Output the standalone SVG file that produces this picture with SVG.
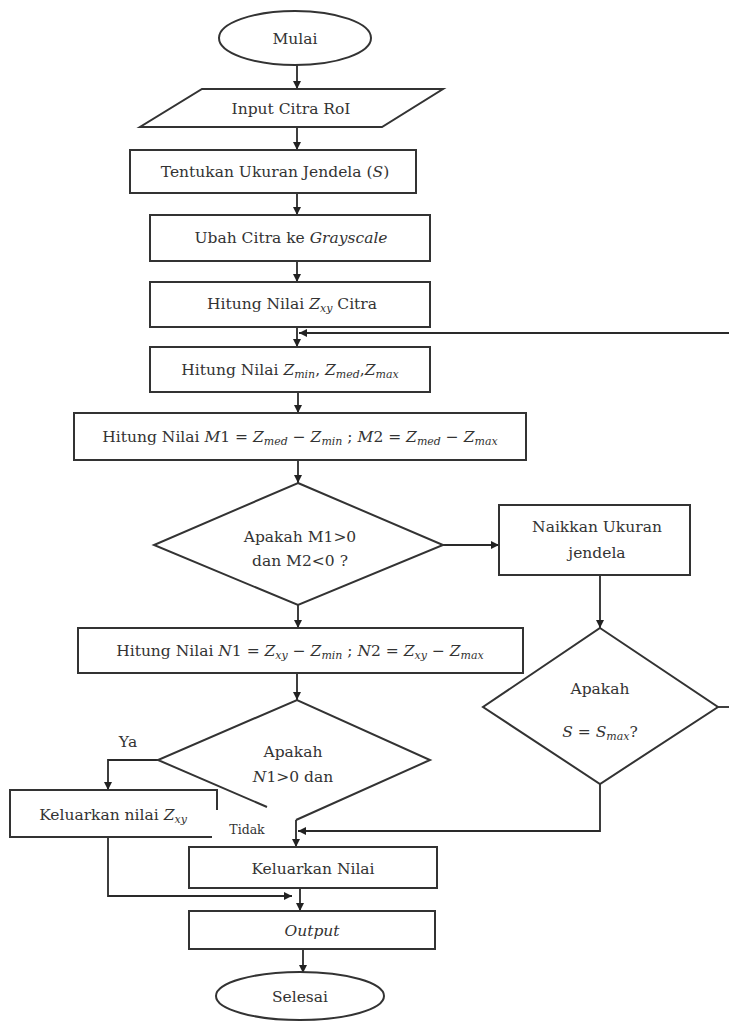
<svg xmlns="http://www.w3.org/2000/svg" width="729" height="1022" viewBox="0 0 729 1022">
  <defs>
    <marker id="arr" viewBox="0 0 10 10" refX="10" refY="5" markerWidth="8" markerHeight="8" markerUnits="userSpaceOnUse" orient="auto">
      <path d="M0,0 L10,5 L0,10 z" fill="#222"/>
    </marker>
    <style>
      .shape { fill: #fff; stroke: #333; stroke-width: 2; }
      .link { fill: none; stroke: #2a2a2a; stroke-width: 1.8; }
      .arrow { marker-end: url(#arr); }
      text { font-family: "DejaVu Serif", "Liberation Serif", serif; font-size: 15.5px; fill: #333; text-anchor: middle; }
      .m { font-style: italic; }
      .sub { font-style: italic; font-size: 11px; }
      .small { font-size: 12.5px; }
    </style>
  </defs>
  <rect width="729" height="1022" fill="#fff"/>

  <!-- connectors -->
  <g id="connectors">
    <path class="link arrow" d="M297,65 V89"/>
    <path class="link arrow" d="M297,127 V150"/>
    <path class="link arrow" d="M297,193 V215"/>
    <path class="link arrow" d="M297,261 V282"/>
    <path class="link arrow" d="M297,327 V347"/>
    <path class="link arrow" d="M729,333 H299"/>
    <path class="link arrow" d="M298,392 V413"/>
    <path class="link arrow" d="M298,460 V483"/>
    <path class="link arrow" d="M443,545 H499"/>
    <path class="link arrow" d="M600,575 V628"/>
    <path class="link arrow" d="M298,605 V628"/>
    <path class="link" d="M718,707 H729"/>
    <path class="link arrow" d="M297,673 V700"/>
    <path class="link arrow" d="M158,760 H108 V790"/>
    <path class="link arrow" d="M600,784 V831 H298"/>
    <path class="link arrow" d="M296,820 V847"/>
    <path class="link arrow" d="M108,837 V896 H292"/>
    <path class="link arrow" d="M300,888 V911"/>
    <path class="link arrow" d="M303,949 V973"/>
  </g>

  <g id="start">
    <ellipse class="shape" cx="295" cy="38" rx="76" ry="27"/>
    <text x="295" y="44">Mulai</text>
  </g>

  <g id="input">
    <polygon class="shape" points="202,89 443,89 382,127 140,127"/>
    <text x="291" y="114">Input Citra RoI</text>
  </g>

  <g id="window-size">
    <rect class="shape" x="130" y="150" width="286" height="43"/>
    <text x="275" y="177">Tentukan Ukuran Jendela  (<tspan class="m">S</tspan>)</text>
  </g>

  <g id="grayscale">
    <rect class="shape" x="150" y="215" width="280" height="46"/>
    <text x="291" y="243">Ubah Citra ke <tspan class="m">Grayscale</tspan></text>
  </g>

  <g id="zxy">
    <rect class="shape" x="150" y="282" width="280" height="45"/>
    <text x="292" y="309">Hitung Nilai <tspan class="m">Z</tspan><tspan class="sub" dy="3">xy</tspan><tspan dy="-3"> Citra</tspan></text>
  </g>

  <g id="zminmedmax">
    <rect class="shape" x="150" y="347" width="280" height="45"/>
    <text x="290" y="375">Hitung Nilai <tspan class="m">Z</tspan><tspan class="sub" dy="3">min</tspan><tspan dy="-3">, </tspan><tspan class="m">Z</tspan><tspan class="sub" dy="3">med</tspan><tspan dy="-3">,</tspan><tspan class="m">Z</tspan><tspan class="sub" dy="3">max</tspan></text>
  </g>

  <g id="m1m2">
    <rect class="shape" x="74" y="413" width="452" height="47"/>
    <text x="300" y="442">Hitung Nilai <tspan class="m">M</tspan>1 = <tspan class="m">Z</tspan><tspan class="sub" dy="3">med</tspan><tspan dy="-3"> − </tspan><tspan class="m">Z</tspan><tspan class="sub" dy="3">min</tspan><tspan dy="-3"> ; </tspan><tspan class="m">M</tspan>2 = <tspan class="m">Z</tspan><tspan class="sub" dy="3">med</tspan><tspan dy="-3"> − </tspan><tspan class="m">Z</tspan><tspan class="sub" dy="3">max</tspan></text>
  </g>

  <g id="check-m">
    <polygon class="shape" points="298,483 443,545 298,605 154,545"/>
    <text x="300" y="542">Apakah M1&gt;0</text>
    <text x="300" y="566">dan M2&lt;0 ?</text>
  </g>

  <g id="grow-window">
    <rect class="shape" x="499" y="505" width="191" height="70"/>
    <text x="597" y="532">Naikkan Ukuran</text>
    <text x="597" y="558">jendela</text>
  </g>

  <g id="check-smax">
    <polygon class="shape" points="600,628 718,707 600,784 483,707"/>
    <text x="600" y="694">Apakah</text>
    <text x="600" y="737"><tspan class="m">S</tspan> = <tspan class="m">S</tspan><tspan class="sub" dy="3">max</tspan><tspan dy="-3">?</tspan></text>
  </g>

  <g id="n1n2">
    <rect class="shape" x="78" y="628" width="445" height="45"/>
    <text x="300" y="656">Hitung Nilai <tspan class="m">N</tspan>1 = <tspan class="m">Z</tspan><tspan class="sub" dy="3">xy</tspan><tspan dy="-3"> − </tspan><tspan class="m">Z</tspan><tspan class="sub" dy="3">min</tspan><tspan dy="-3"> ; </tspan><tspan class="m">N</tspan>2 = <tspan class="m">Z</tspan><tspan class="sub" dy="3">xy</tspan><tspan dy="-3"> − </tspan><tspan class="m">Z</tspan><tspan class="sub" dy="3">max</tspan></text>
  </g>

  <g id="check-n">
    <path class="shape" d="M267,807 L158,760 L297,700 L430,760 L296,820" fill="none"/>
    <text x="293" y="757">Apakah</text>
    <text x="293" y="782"><tspan class="m">N</tspan>1&gt;0 dan</text>
    <text x="128" y="747">Ya</text>
    <text class="small" x="247" y="834">Tidak</text>
  </g>

  <g id="out-zxy">
    <path class="shape" d="M217,810 V790 H10 V837 H212" fill="none"/>
    <text x="113" y="820">Keluarkan nilai <tspan class="m">Z</tspan><tspan class="sub" dy="3">xy</tspan></text>
  </g>

  <g id="out-value">
    <rect class="shape" x="189" y="847" width="248" height="41"/>
    <text x="313" y="874">Keluarkan Nilai</text>
  </g>

  <g id="output">
    <rect class="shape" x="189" y="911" width="246" height="38"/>
    <text class="m" x="312" y="936">Output</text>
  </g>

  <g id="end">
    <ellipse class="shape" cx="300" cy="996" rx="84" ry="24"/>
    <text x="300" y="1002">Selesai</text>
  </g>
</svg>
